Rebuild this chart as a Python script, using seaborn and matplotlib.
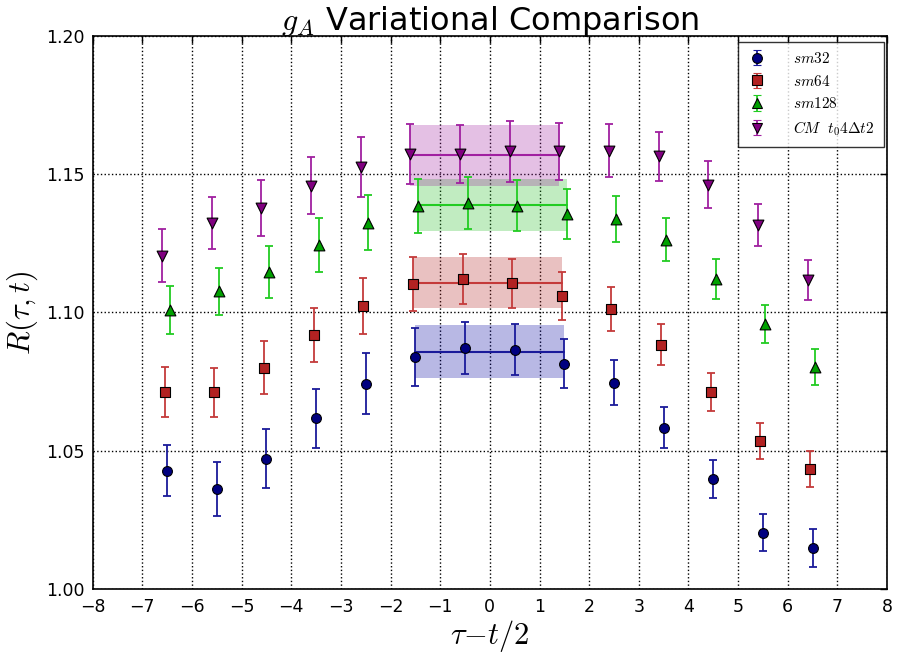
import numpy as np
import pandas as pd
import matplotlib
matplotlib.use("Agg")
import matplotlib.pyplot as plt
import seaborn as sns

# ---- data ----
tau = [-6.5, -5.5, -4.5, -3.5, -2.5, -1.5, -0.5, 0.5, 1.5, 2.5, 3.5, 4.5, 5.5, 6.5]

sm32 = [1.0429, 1.0363, 1.0472, 1.0617, 1.0742, 1.0840, 1.0872, 1.0865, 1.0815,
        1.0747, 1.0583, 1.0398, 1.0204, 1.0149]
sm32_err = [0.0093, 0.0097, 0.0106, 0.0106, 0.0110, 0.0104, 0.0095, 0.0092, 0.0088,
            0.0080, 0.0074, 0.0068, 0.0067, 0.0068]

sm64 = [1.0712, 1.0712, 1.0801, 1.0919, 1.1023, 1.1104, 1.1121, 1.1106, 1.1061,
        1.1013, 1.0884, 1.0714, 1.0536, 1.0436]
sm64_err = [0.0090, 0.0088, 0.0097, 0.0098, 0.0100, 0.0098, 0.0090, 0.0088, 0.0087,
            0.0079, 0.0074, 0.0069, 0.0066, 0.0065]

sm128 = [1.1009, 1.1076, 1.1147, 1.1244, 1.1325, 1.1386, 1.1396, 1.1386, 1.1357,
         1.1338, 1.1263, 1.1121, 1.0959, 1.0804]
sm128_err = [0.0088, 0.0086, 0.0093, 0.0096, 0.0098, 0.0098, 0.0094, 0.0093, 0.0090,
             0.0083, 0.0078, 0.0074, 0.0069, 0.0065]

cm = [1.1205, 1.1323, 1.1377, 1.1458, 1.1526, 1.1573, 1.1573, 1.1582, 1.1582,
      1.1585, 1.1564, 1.1462, 1.1317, 1.1118]
cm_err = [0.0095, 0.0093, 0.0100, 0.0102, 0.0107, 0.0108, 0.0106, 0.0109, 0.0104,
          0.0097, 0.0089, 0.0084, 0.0076, 0.0072]

fit_range = [-1.5, 1.5]
fit_vals = [1.0859, 1.1108, 1.1388, 1.1568]
fit_errs = [0.0095, 0.0093, 0.0093, 0.0110]

labels = [r"$sm32$", r"$sm64$", r"$sm128$", r"$CM\ \ t_0 4\Delta t2$"]
x_ticks = list(range(-8, 9))
y_ticks = [1.00, 1.05, 1.10, 1.15, 1.20]

# ---- styling ----
sns.set_style("white")
plt.rcParams["font.family"] = ["DejaVu Sans"]
plt.rcParams["mathtext.fontset"] = "cm"
for k in ["text.color", "axes.labelcolor", "xtick.color", "ytick.color"]:
    plt.rcParams[k] = "black"

offsets = [0.0, -0.05, 0.05, -0.1]
markers = ["o", "s", "^", "v"]
marker_sizes = [50, 44, 60, 60]
face_cols = ["#000080", "#B22222", "#00A000", "#800080"]
bar_cols = ["#1a1a9a", "#C43A3A", "#22CC22", "#A020A0"]
band_cols = ["#0000A0", "#B22222", "#22BB22", "#A020A0"]

series = [(sm32, sm32_err), (sm64, sm64_err), (sm128, sm128_err), (cm, cm_err)]

fig = plt.figure(figsize=(8.97, 6.56), dpi=100)
ax = fig.add_axes([0.1033, 0.1017, 0.8856, 0.8439])

handles = []
for i, (vals, errs) in enumerate(series):
    xs = np.array(tau) + offsets[i]
    df = pd.DataFrame({"x": xs, "y": vals})
    ax.errorbar(xs, vals, yerr=errs, fmt="none", ecolor=bar_cols[i],
                elinewidth=1.3, capsize=3, capthick=1.3, zorder=3)
    sns.scatterplot(data=df, x="x", y="y", marker=markers[i], s=marker_sizes[i],
                    color=face_cols[i], edgecolor="black", linewidth=0.8,
                    ax=ax, zorder=4, legend=False)
    # fit band
    fx = np.array(fit_range) + offsets[i]
    ax.fill_between(fx, fit_vals[i] - fit_errs[i], fit_vals[i] + fit_errs[i],
                    color=band_cols[i], alpha=0.28, linewidth=0, zorder=2)
    fdf = pd.DataFrame({"x": fx, "y": [fit_vals[i]] * 2})
    sns.lineplot(data=fdf, x="x", y="y", color=bar_cols[i], linewidth=1.5,
                 ax=ax, zorder=2.5, legend=False)
    # proxy for the legend (placed outside the view)
    h = ax.errorbar([100], [0.5], yerr=[0.01], fmt=markers[i], color=bar_cols[i],
                    mfc=face_cols[i], mec="black", mew=0.8,
                    ms=np.sqrt(marker_sizes[i]),
                    elinewidth=1.3, capsize=3, capthick=1.3)
    handles.append(h)

leg = ax.legend(handles, labels, loc="upper right", bbox_to_anchor=(0.996, 0.9886),
                borderaxespad=0, fontsize=11, frameon=True, fancybox=False,
                handlelength=1.2, handletextpad=1.8, borderpad=0.6, labelspacing=0.5)
leg.get_frame().set_edgecolor("black")
leg.get_frame().set_linewidth(1.0)

ax.set_xlim(-8, 8)
ax.set_ylim(1.00, 1.20)
ax.set_xticks(x_ticks)
ax.set_yticks(y_ticks)
ax.set_yticklabels([f"{v:.2f}" for v in y_ticks])
ax.tick_params(direction="in", top=True, right=True, length=5, width=1,
               labelsize=12.5, color="black", pad=6)
ax.grid(True, linestyle=":", color="black", linewidth=1.0)
for s in ax.spines.values():
    s.set_edgecolor("black")
    s.set_linewidth(1.2)

ax.set_title(r"$g_A$ Variational Comparison", fontsize=23, pad=4)
ax.set_xlabel(r"$\tau{-}t/2$", fontsize=22, labelpad=2)
ax.set_ylabel(r"$R(\tau,t)$", fontsize=22, labelpad=4)

fig.savefig("out.png", dpi=100)
